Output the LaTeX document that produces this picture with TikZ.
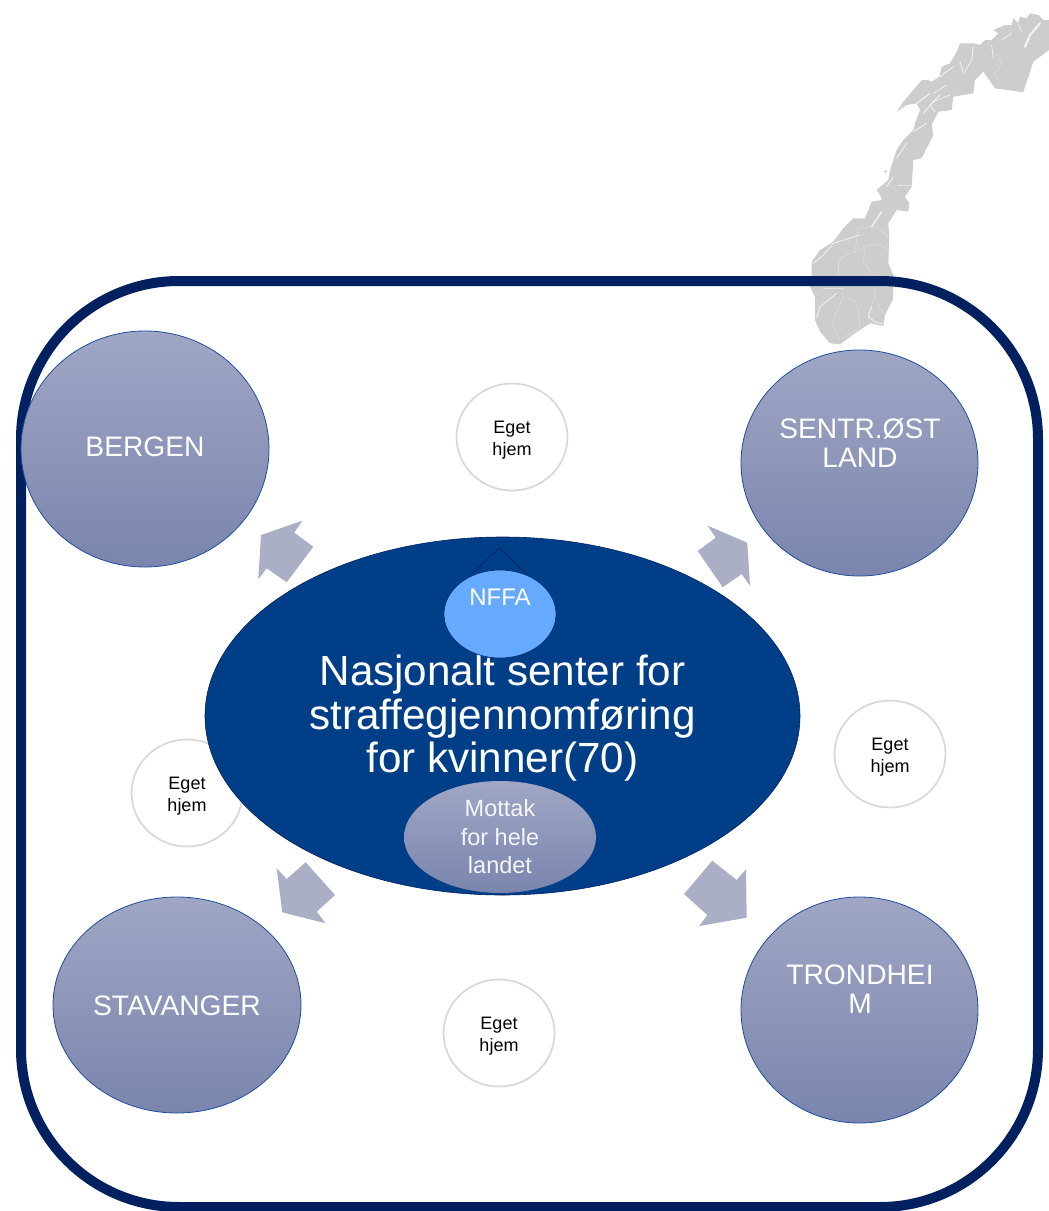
\documentclass[tikz,border=0pt]{standalone}
\usepackage{fontspec}
\setmainfont{Liberation Sans}
\usetikzlibrary{shapes.geometric}
\definecolor{ringc}{HTML}{002060}
\definecolor{corec}{HTML}{003F87}
\definecolor{gtop}{HTML}{A0A6C4}
\definecolor{gbot}{HTML}{7A85AE}
\definecolor{edgec}{HTML}{1F4E9E}
\definecolor{arrowc}{HTML}{ABAFC6}
\definecolor{mapc}{HTML}{CDCDCD}
\definecolor{nffac}{HTML}{66AAFF}
\definecolor{egetc}{HTML}{D9D9D9}
\tikzset{
  city/.style={ellipse,draw=edgec,line width=0.8pt,top color=gtop,bottom color=gbot,inner sep=0pt},
  citytext/.style={text=white,align=center,inner sep=0pt,font=\fontsize{28.2}{29}\selectfont},
  eget/.style={ellipse,draw=egetc,line width=1.8pt,fill=white,inner sep=0pt,minimum width=111pt,minimum height=107pt},
  egettext/.style={align=center,inner sep=0pt,font=\fontsize{18}{22}\selectfont},
  bigarrow/.style={fill=arrowc,draw=none},
  border/.style={draw=white,line width=0.35pt,opacity=0.45},
  fjord/.style={draw=white,line width=0.8pt,opacity=0.75,line join=round,line cap=round}
}
\begin{document}
\begin{tikzpicture}[x=1pt,y=-1pt]
\useasboundingbox (0,0) rectangle (1049,1211);
% map of Norway
\fill[mapc,line join=round] (1049,20) -- (1043.3,20) -- (1038.3,15) -- (1030,13.3) -- (1026.7,18.3) -- (1020,16.7) -- (1018.3,23.3) -- (1013.3,18.3) -- (1011.7,25) -- (1005,25) -- (993.3,30) -- (998.3,33.3) -- (991.7,40) -- (985,40) -- (980,45) -- (973.3,43.3) -- (960,43.3) -- (956.7,51.7) -- (950,63.3) -- (941.7,66.7) -- (939.3,76.7) -- (931.7,81.7) -- (928,80) -- (921.7,80) -- (913.3,90) -- (903.3,101.7) -- (896.7,111.7) -- (906.7,105) -- (916.7,103.3) -- (920,110) -- (915,123.3) -- (913.3,130) -- (903.3,140) -- (896.7,150) -- (890,170) -- (888.3,180) -- (876.7,190) -- (880,195) -- (881.7,200) -- (871.7,201.7) -- (865,218.3) -- (853.3,218.3) -- (843.3,228.3) -- (833.3,241.7) -- (820,250) -- (811.7,261.7) -- (811.7,276.7) -- (810,286.7) -- (815,296.7) -- (815,320) -- (820,331.7) -- (830,343.3) -- (840,344.3) -- (855,333.3) -- (870,323.3) -- (883.3,326) -- (885,315) -- (892.7,300) -- (894,276.7) -- (888.3,263.3) -- (889.3,236.7) -- (888.3,223.3) -- (896.7,210) -- (908.3,211.7) -- (909.3,203.3) -- (905,196.7) -- (911.7,186.7) -- (913.3,160) -- (921.7,158.3) -- (933.3,135) -- (931.7,125) -- (938.3,111.7) -- (951.7,110) -- (953.3,96.7) -- (973.3,93.3) -- (975,80) -- (983.3,71.7) -- (995,88.3) -- (1023.3,92.3) -- (1033.3,61.7) -- (1049,50) -- cycle;
\fill[mapc] (885.5,171.5) circle (1.4pt);
% north
\begin{scope}[shift={(930,5)},x=0.3333pt,y=-0.3333pt]
\draw[fjord,line width=2.2pt] (330,55) -- (300,90) -- (285,125);
\draw[fjord] (130,125) -- (125,165) -- (105,200);
\draw[fjord] (90,170) -- (100,205);
\draw[fjord] (185,120) -- (190,160);
\draw[fjord] (70,185) -- (30,215);
\draw[fjord] (50,240) -- (10,265);
\draw[fjord] (30,270) -- (0,300);
\draw[fjord] (245,85) -- (215,105);
\draw[fjord] (265,60) -- (275,80);
\draw[border] (200,145) -- (215,175) -- (195,205) -- (205,225);
\end{scope}
% centre
\begin{scope}[shift={(870,80)},x=0.3333pt,y=-0.3333pt]
\draw[fjord] (240,45) -- (190,65) -- (160,100);
\draw[fjord,line width=1.1pt] (140,70) -- (180,40);
\draw[fjord] (180,75) -- (195,95);
\draw[fjord] (170,130) -- (130,155);
\draw[fjord] (110,190) -- (80,235);
\draw[fjord] (70,290) -- (50,320);
\draw[border] (85,315) -- (125,315);
\end{scope}
% south
\begin{scope}[shift={(800,200)},x=0.3333pt,y=-0.3333pt]
\draw[fjord,line width=1.4pt] (245,35) -- (215,80);
\draw[fjord] (180,105) -- (100,130) -- (70,165) -- (40,190);
\draw[fjord] (110,280) -- (60,320) -- (50,355);
\draw[fjord] (215,320) -- (205,350) -- (225,365) -- (245,372);
\draw[border] (268,150) -- (235,132) -- (195,140) -- (165,155) -- (130,170) -- (115,180) -- (115,225) -- (130,290) -- (95,370) -- (110,395) -- (120,420);
\draw[border] (195,140) -- (190,185) -- (220,230) -- (225,290) -- (205,340);
\draw[border] (130,290) -- (165,300) -- (175,330) -- (180,385) -- (135,410);
\draw[border] (175,85) -- (210,80) -- (235,85) -- (265,110);
\draw[border] (165,155) -- (175,85);
\draw[border] (70,265) -- (130,265);
\draw[border] (225,290) -- (255,350);
\end{scope}
% frame
\draw[ringc,line width=10pt,rounded corners=158pt] (21,281) rectangle (1038,1207);
% home circles
\node[eget] (e1) at (512,437) {};
\node[egettext] (e1t) at (512,440) {Eget\\hjem};
\node[eget] (e2) at (890,754) {};
\node[egettext] (e2t) at (890,757) {Eget\\hjem};
\node[eget] (e3) at (187,793) {};
\node[egettext] (e3t) at (187,796) {Eget\\hjem};
\node[eget] (e4) at (499,1033) {};
\node[egettext] (e4t) at (499,1036) {Eget\\hjem};
% cities
\node[city,minimum width=248pt,minimum height=236pt] (bergen) at (145,449) {};
\node[citytext] (bergent) at (145,447) {BERGEN};
\node[city,minimum width=237pt,minimum height=226pt] (sentr) at (859.5,463) {};
\node[citytext] (sentrt) at (860,442.5) {SENTR.ØST\\LAND};
\node[city,minimum width=248pt,minimum height=216pt] (stav) at (177,1005) {};
\node[citytext] (stavt) at (177,1006) {STAVANGER};
\node[city,minimum width=237pt,minimum height=226pt] (trond) at (859.5,1010) {};
\node[citytext] (trondt) at (860,989.5) {TRONDHEI\\M};
% arrows
\fill[bigarrow] (302.3,520.7) -- (261,535) -- (258.3,579.3) -- (266.7,568.3) -- (286.7,582.3) -- (313.3,546.7) -- (294.3,532.7) -- cycle;
\fill[bigarrow] (712.3,860.7) -- (736.7,880) -- (746,869.3) -- (746.7,917.7) -- (699.3,926) -- (707.3,915) -- (684,894) -- cycle;
\fill[bigarrow] (707.7,525.7) -- (747.3,542.7) -- (750,585.7) -- (741.7,574) -- (722.7,587.3) -- (697.7,551) -- (715.7,537.7) -- cycle;
\fill[bigarrow] (276.7,868.3) -- (286.7,879) -- (305.7,862.3) -- (335,895) -- (316.7,911.7) -- (325.7,923.3) -- (282.3,912.3) -- cycle;
% centre
\node[ellipse,draw=ringc,line width=0.6pt,fill=corec,minimum width=595pt,minimum height=358pt,inner sep=0pt] (core) at (502.5,716) {};
\node[text=white,align=center,font=\fontsize{42.2}{43.5}\selectfont] (coretext) at (502.5,718.5) {Nasjonalt senter for\\straffegjennomføring\\for kvinner(70)};
\coordinate (apex) at (499,548);
\coordinate (tl) at (472,574);
\coordinate (tr) at (527,574);
\draw[ringc,line width=0.8pt] (tl) -- (apex) -- (tr);
\node[ellipse,draw=ringc!60!corec,line width=0.6pt,fill=nffac,minimum width=112pt,minimum height=88pt,inner sep=0pt] (nffa) at (500,614) {};
\node[text=white,font=\fontsize{24}{26}\selectfont] (nffat) at (500,597) {NFFA};
\node[ellipse,draw=none,top color=gtop,bottom color=gbot,minimum width=192pt,minimum height=112pt,inner sep=0pt,text=white!90!gtop,align=center,font=\fontsize{23.5}{28.5}\selectfont] (mottak) at (500,837) {Mottak\\for hele\\landet};
\end{tikzpicture}
\end{document}
